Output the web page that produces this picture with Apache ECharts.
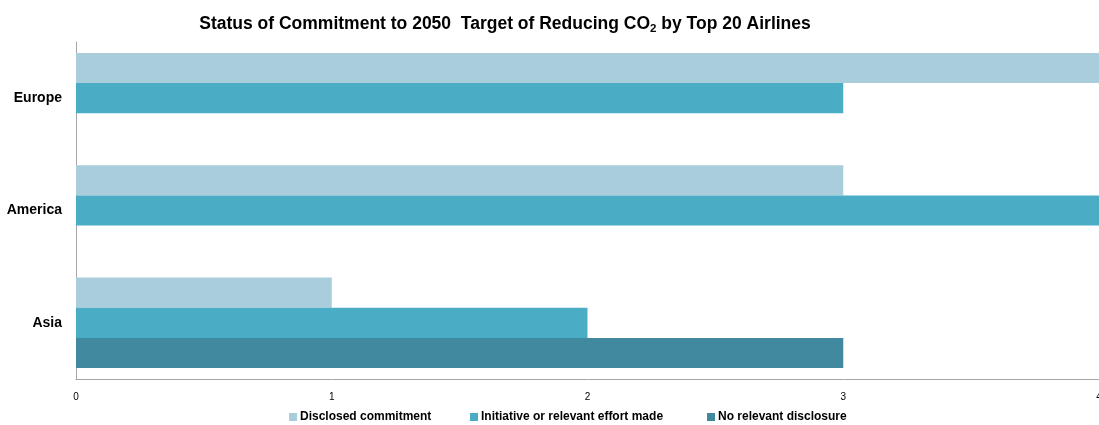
<!DOCTYPE html>
<html>
<head>
<meta charset="utf-8">
<script src="https://cdn.jsdelivr.net/npm/echarts@6/dist/echarts.min.js"></script>
<style>html,body{margin:0;padding:0;background:#fff;}#c{width:1099px;height:425px;}</style>
</head>
<body>
<div id="c"></div>
<script>
var categories = ['Asia', 'America', 'Europe'];
var disclosed = [1, 3, 4];
var initiative = [2, 4, 3];
var noDisclosure = [3, 0, 0];
var seriesNames = ['Disclosed commitment', 'Initiative or relevant effort made', 'No relevant disclosure'];
var xTicks = [0, 1, 2, 3, 4];

var font = '"Liberation Sans", Arial, sans-serif';
var legendLefts = [289, 470, 707];
var legendStyle = function (i) {
  return {
    data: [seriesNames[i]],
    top: 411, left: legendLefts[i],
    itemWidth: 8, itemHeight: 8, itemGap: 0,
    icon: 'rect', padding: 0,
    textStyle: { fontFamily: font, fontWeight: 'bold', fontSize: 12, color: '#000', padding: [0, 0, 0, -2] }
  };
};
var chart = echarts.init(document.getElementById('c'));
chart.setOption({
  animation: false,
  title: {
    text: 'Status of Commitment to 2050  Target of Reducing CO{sub|2} by Top 20 Airlines',
    left: 505, top: 13, textAlign: 'center', padding: 0,
    textStyle: {
      fontFamily: font, fontWeight: 'bold', fontSize: 17.5, color: '#000',
      rich: { sub: { fontFamily: font, fontWeight: 'bold', fontSize: 11.5, color: '#000', padding: [10, 0, 0, 0] } }
    }
  },
  legend: [legendStyle(0), legendStyle(1), legendStyle(2)],
  grid: { left: 76, right: 0, top: 42, bottom: 46, containLabel: false, outerBoundsMode: 'none' },
  xAxis: {
    type: 'value', min: xTicks[0], max: xTicks[xTicks.length - 1], interval: 1,
    axisLine: { show: true, lineStyle: { color: '#a6a6a6' } },
    axisTick: { show: false },
    splitLine: { show: false },
    axisLabel: { fontFamily: font, fontSize: 10, color: '#000', margin: 13 }
  },
  yAxis: {
    type: 'category', data: categories,
    axisLine: { show: true, lineStyle: { color: '#a6a6a6' } },
    axisTick: { show: false },
    axisLabel: { fontFamily: font, fontWeight: 'bold', fontSize: 14, color: '#000', margin: 14 }
  },
  series: [
    { name: seriesNames[0], type: 'bar', data: disclosed, itemStyle: { color: '#a9cddb' }, barGap: '0%', barCategoryGap: '19.5%' },
    { name: seriesNames[1], type: 'bar', data: initiative, itemStyle: { color: '#4bacc6' }, barGap: '0%', barCategoryGap: '19.5%' },
    { name: seriesNames[2], type: 'bar', data: noDisclosure, itemStyle: { color: '#41899f' }, barGap: '0%', barCategoryGap: '19.5%' }
  ]
});
</script>
</body>
</html>
